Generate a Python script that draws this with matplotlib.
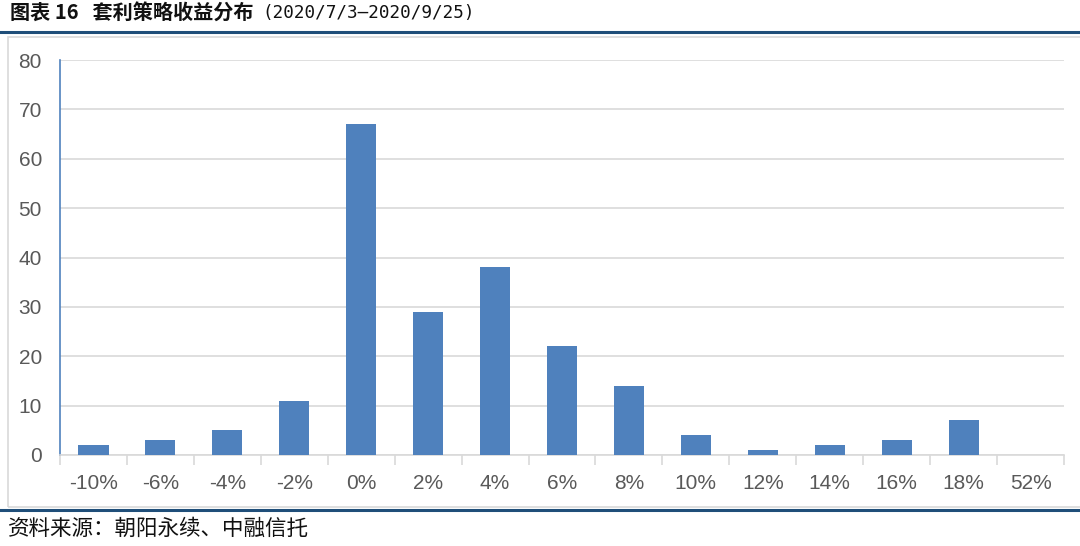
import matplotlib
matplotlib.use("Agg")
import matplotlib.pyplot as plt
from matplotlib.lines import Line2D
from matplotlib.patches import Rectangle
import numpy as np

# ── data ─────────────────────────────────────────────
categories = ["-10%", "-6%", "-4%", "-2%", "0%", "2%", "4%", "6%",
              "8%", "10%", "12%", "14%", "16%", "18%", "52%"]
counts = [2, 3, 5, 11, 67, 29, 38, 22, 14, 4, 1, 2, 3, 7, 0]
y_ticks = [0, 10, 20, 30, 40, 50, 60, 70, 80]

title_head = "图表 16   套利策略收益分布"
title_dates = "(2020/7/3—2020/9/25)"
source = "资料来源：朝阳永续、中融信托"

BAR = "#4F81BD"
NAVY = "#1F4E79"
CJK = ["Noto Sans CJK SC", "DejaVu Sans"]
MONO = ["DejaVu Sans Mono", "Noto Sans CJK SC"]

plt.rcParams["font.family"] = ["Liberation Sans", "DejaVu Sans"]

W, H = 1080, 546
fig = plt.figure(figsize=(W / 100, H / 100), dpi=100)

# header / footer decoration
fig.text(10 / W, 1 - 13 / H, title_head, family=CJK, fontsize=14.5,
         fontweight="bold", va="center", ha="left", color="#111111")
fig.text(262 / W, 1 - 13 / H, title_dates, family=MONO, fontsize=12.7,
         va="center", ha="left", color="#111111")
fig.add_artist(Line2D([0, 1], [1 - 32 / H] * 2, color=NAVY, lw=2.2,
                      transform=fig.transFigure))
fig.add_artist(Rectangle((8 / W, 1 - 507 / H), (W + 10 - 8) / W, (507 - 37) / H,
                         transform=fig.transFigure, fill=False,
                         edgecolor="#d9d9d9", lw=1.2))
fig.add_artist(Line2D([0, 1], [1 - 510 / H] * 2, color=NAVY, lw=2.2,
                      transform=fig.transFigure))
fig.text(8 / W, 1 - 529 / H, source, family=CJK, fontsize=15.5,
         va="center", ha="left", color="#111111")

# ── plot area ────────────────────────────────────────
ax = fig.add_axes([60 / W, 1 - 455 / H, (1064 - 60) / W, (455 - 60) / H])
x = np.arange(len(categories))
ax.bar(x, counts, width=0.45, color=BAR, zorder=3)

ax.set_xlim(-0.5, len(categories) - 0.5)
ax.set_ylim(0, 80)
ax.set_yticks(y_ticks)
ax.set_yticklabels([str(v) for v in y_ticks])
ax.yaxis.grid(True, color="#d9d9d9", lw=1.2, zorder=0)

ax.set_xticks(x)
ax.set_xticklabels(categories)
ax.set_xticks(np.arange(-0.5, len(categories)), minor=True)
ax.tick_params(axis="x", which="major", length=0, pad=14,
               labelsize=15, labelcolor="#595959")
ax.tick_params(axis="x", which="minor", length=7, width=1.2, color="#d9d9d9")
ax.tick_params(axis="y", length=0, pad=13, labelsize=15, labelcolor="#595959")

for s in ["top", "right"]:
    ax.spines[s].set_visible(False)
ax.spines["left"].set_color(BAR)
ax.spines["left"].set_linewidth(1.2)
ax.spines["bottom"].set_color("#d9d9d9")
ax.spines["bottom"].set_linewidth(1.2)

fig.savefig("out.png", dpi=100)
